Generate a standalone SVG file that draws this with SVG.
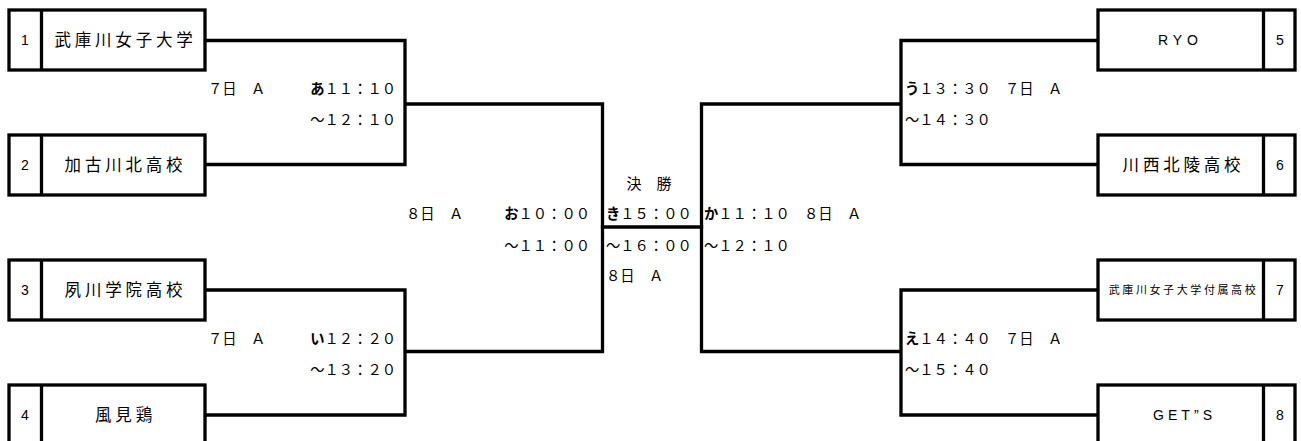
<svg xmlns="http://www.w3.org/2000/svg" width="1301" height="441" viewBox="0 0 1301 441">
<style>
.box{fill:#fff;stroke:#000;stroke-width:3.3}
.div{stroke:#000;stroke-width:3.3}
.ln{fill:none;stroke:#000;stroke-width:3.3;stroke-linejoin:miter;stroke-linecap:square}
.num{font-family:"Liberation Sans",Arial,sans-serif;font-size:14px;fill:#000;text-anchor:middle}
.team{font-family:"Noto Sans CJK JP","Liberation Sans",sans-serif;font-size:16.5px;letter-spacing:3.8px;fill:#000;text-anchor:middle}
.lat{font-family:"Liberation Sans",Arial,sans-serif;font-size:14px;fill:#000}
.small{font-family:"Noto Sans CJK JP","Liberation Sans",sans-serif;font-size:11px;letter-spacing:2.6px;fill:#000;text-anchor:middle}
.t{font-family:"Noto Sans CJK JP","Liberation Sans",sans-serif;font-size:14.3px;fill:#000}
.e{text-anchor:end}
.b{font-weight:bold}
</style>
<g id="connectors">
<path class="ln" d="M205,40.5 H405 V164.5 H205 M405,104 H602.5 V351.5 H405 M205,290 H405 V415 H205"/>
<path class="ln" d="M1098,40.5 H901 V164.5 H1098 M901,104 H701.5 V351.5 H901 M1098,290 H901 V415 H1098"/>
<path class="ln" d="M602.5,227 H701.5"/>
</g>
<g id="team1"><rect class="box" x="9" y="10" width="196" height="60"/><line class="div" x1="41.5" y1="10" x2="41.5" y2="70"/><text class="num" x="25" y="44.5">1</text><text class="team" x="125.5" y="46">武庫川女子大学</text></g>
<g id="team2"><rect class="box" x="9" y="135" width="196" height="60"/><line class="div" x1="41.5" y1="135" x2="41.5" y2="195"/><text class="num" x="25" y="169.5">2</text><text class="team" x="125.5" y="171">加古川北高校</text></g>
<g id="team3"><rect class="box" x="9" y="260" width="196" height="60"/><line class="div" x1="41.5" y1="260" x2="41.5" y2="320"/><text class="num" x="25" y="294.5">3</text><text class="team" x="125.5" y="296">夙川学院高校</text></g>
<g id="team4"><rect class="box" x="9" y="385" width="196" height="62"/><line class="div" x1="41.5" y1="385" x2="41.5" y2="447"/><text class="num" x="25" y="419.5">4</text><text class="team" x="125.5" y="421">風見鶏</text></g>
<g id="team5"><rect class="box" x="1098" y="10" width="197" height="60"/><line class="div" x1="1263.5" y1="10" x2="1263.5" y2="70"/><text class="num" x="1280" y="44.5">5</text><text class="lat" x="1158" y="45" textLength="40" lengthAdjust="spacing">RYO</text></g>
<g id="team6"><rect class="box" x="1098" y="135" width="197" height="60"/><line class="div" x1="1263.5" y1="135" x2="1263.5" y2="195"/><text class="num" x="1280" y="169.5">6</text><text class="team" x="1183.5" y="171">川西北陵高校</text></g>
<g id="team7"><rect class="box" x="1098" y="260" width="197" height="60"/><line class="div" x1="1263.5" y1="260" x2="1263.5" y2="320"/><text class="num" x="1280" y="294.5">7</text><text class="small" x="1183.5" y="294">武庫川女子大学付属高校</text></g>
<g id="team8"><rect class="box" x="1098" y="385" width="197" height="62"/><line class="div" x1="1263.5" y1="385" x2="1263.5" y2="447"/><text class="num" x="1280" y="419.5">8</text><text class="lat" x="1153" y="420" textLength="59" lengthAdjust="spacing">GET”S</text></g>
<g id="match-a"><text class="t" x="208" y="94">７日　Ａ</text><text class="t e" x="396" y="94"><tspan class="b">あ</tspan>１１：１０</text><text class="t e" x="396" y="125">～１２：１０</text></g>
<g id="match-i"><text class="t" x="208" y="344">７日　Ａ</text><text class="t e" x="396" y="344"><tspan class="b">い</tspan>１２：２０</text><text class="t e" x="396" y="375">～１３：２０</text></g>
<g id="match-o"><text class="t" x="406" y="219">８日　Ａ</text><text class="t e" x="590" y="219"><tspan class="b">お</tspan>１０：００</text><text class="t e" x="590" y="251">～１１：００</text></g>
<g id="final"><text class="t" x="626.5" y="189" style="font-size:15px">決　勝</text><text class="t" x="606" y="219"><tspan class="b">き</tspan>１５：００</text><text class="t" x="606" y="251">～１６：００</text><text class="t" x="606" y="281">８日　Ａ</text></g>
<g id="match-ka"><text class="t" x="704" y="219"><tspan class="b">か</tspan>１１：１０　８日　Ａ</text><text class="t" x="704" y="251">～１２：１０</text></g>
<g id="match-u"><text class="t" x="905" y="94"><tspan class="b">う</tspan>１３：３０　７日　Ａ</text><text class="t" x="905" y="125">～１４：３０</text></g>
<g id="match-e"><text class="t" x="905" y="344"><tspan class="b">え</tspan>１４：４０　７日　Ａ</text><text class="t" x="905" y="375">～１５：４０</text></g>
</svg>
